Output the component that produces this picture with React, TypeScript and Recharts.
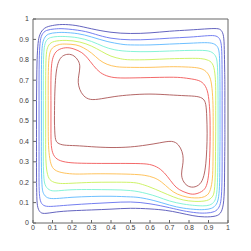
import { LineChart, Line, XAxis, YAxis } from "recharts";

type Pt = [number, number];

const ticks = [0, 0.1, 0.2, 0.3, 0.4, 0.5, 0.6, 0.7, 0.8, 0.9, 1];
const tickLabels = ["0", "0.1", "0.2", "0.3", "0.4", "0.5", "0.6", "0.7", "0.8", "0.9", "1"];

// outermost (dark blue) -> innermost (dark red)
const levelColors = ["#5252b8", "#6470ee", "#5cb8ff", "#78f2d2", "#c8f058", "#ffbc4c", "#f25858", "#ac5656"];

const level1: Pt[] = [
  [0.018, 0.5], [0.018, 0.6], [0.019, 0.7], [0.021, 0.8], [0.026, 0.88], [0.036, 0.925], [0.06, 0.955],
  [0.1, 0.968], [0.15, 0.973], [0.22, 0.968], [0.3, 0.952], [0.4, 0.935], [0.5, 0.929], [0.6, 0.932],
  [0.7, 0.94], [0.8, 0.946], [0.88, 0.951], [0.94, 0.953], [0.965, 0.944], [0.977, 0.915], [0.981, 0.85],
  [0.983, 0.75], [0.984, 0.65], [0.984, 0.5], [0.984, 0.4], [0.983, 0.3], [0.982, 0.2], [0.978, 0.11],
  [0.965, 0.055], [0.935, 0.034], [0.88, 0.03], [0.82, 0.036], [0.75, 0.05], [0.68, 0.062], [0.6, 0.069],
  [0.5, 0.072], [0.4, 0.068], [0.3, 0.064], [0.2, 0.06], [0.12, 0.054], [0.06, 0.047], [0.035, 0.056],
  [0.023, 0.085], [0.019, 0.15], [0.018, 0.25], [0.018, 0.35], [0.018, 0.5],
];

const level2: Pt[] = [
  [0.031, 0.5], [0.031, 0.6], [0.031, 0.7], [0.032, 0.8], [0.036, 0.88], [0.046, 0.922], [0.07, 0.944],
  [0.11, 0.951], [0.16, 0.952], [0.25, 0.942], [0.32, 0.925], [0.4, 0.906], [0.5, 0.898], [0.6, 0.9],
  [0.7, 0.906], [0.8, 0.911], [0.88, 0.917], [0.93, 0.918], [0.955, 0.905], [0.966, 0.87], [0.969, 0.8],
  [0.97, 0.7], [0.97, 0.6], [0.97, 0.5], [0.97, 0.4], [0.97, 0.3], [0.969, 0.2], [0.965, 0.12],
  [0.954, 0.078], [0.93, 0.056], [0.89, 0.049], [0.84, 0.05], [0.77, 0.06], [0.7, 0.075], [0.6, 0.094],
  [0.5, 0.103], [0.4, 0.1], [0.3, 0.095], [0.2, 0.089], [0.12, 0.083], [0.07, 0.082], [0.045, 0.095],
  [0.034, 0.13], [0.031, 0.2], [0.031, 0.3], [0.031, 0.4], [0.031, 0.5],
];

const level3: Pt[] = [
  [0.043, 0.5], [0.043, 0.6], [0.043, 0.7], [0.044, 0.8], [0.048, 0.87], [0.058, 0.905], [0.08, 0.926],
  [0.12, 0.933], [0.16, 0.934], [0.23, 0.928], [0.3, 0.912], [0.38, 0.89], [0.45, 0.877], [0.5, 0.873],
  [0.6, 0.873], [0.7, 0.877], [0.8, 0.881], [0.88, 0.884], [0.925, 0.879], [0.948, 0.86], [0.956, 0.82],
  [0.958, 0.75], [0.959, 0.65], [0.959, 0.5], [0.959, 0.4], [0.958, 0.3], [0.957, 0.2], [0.952, 0.13],
  [0.94, 0.092], [0.915, 0.072], [0.88, 0.066], [0.84, 0.066], [0.77, 0.073], [0.7, 0.088], [0.62, 0.11],
  [0.55, 0.124], [0.5, 0.128], [0.4, 0.131], [0.3, 0.13], [0.2, 0.126], [0.12, 0.12], [0.075, 0.124],
  [0.054, 0.145], [0.046, 0.19], [0.043, 0.3], [0.043, 0.4], [0.043, 0.5],
];

const level4: Pt[] = [
  [0.053, 0.5], [0.053, 0.6], [0.053, 0.7], [0.054, 0.8], [0.058, 0.86], [0.068, 0.893], [0.09, 0.909],
  [0.125, 0.914], [0.165, 0.914], [0.23, 0.908], [0.3, 0.89], [0.36, 0.866], [0.42, 0.849], [0.5, 0.841],
  [0.6, 0.84], [0.7, 0.843], [0.8, 0.846], [0.87, 0.846], [0.91, 0.84], [0.935, 0.82], [0.945, 0.78],
  [0.948, 0.7], [0.949, 0.6], [0.949, 0.5], [0.949, 0.4], [0.948, 0.3], [0.946, 0.2], [0.941, 0.14],
  [0.93, 0.106], [0.905, 0.088], [0.87, 0.084], [0.83, 0.086], [0.77, 0.093], [0.7, 0.108], [0.64, 0.128],
  [0.58, 0.145], [0.5, 0.159], [0.4, 0.163], [0.3, 0.164], [0.2, 0.163], [0.13, 0.158], [0.09, 0.16],
  [0.066, 0.18], [0.056, 0.22], [0.053, 0.3], [0.053, 0.4], [0.053, 0.5],
];

const level5: Pt[] = [
  [0.065, 0.5], [0.065, 0.6], [0.065, 0.7], [0.066, 0.78], [0.07, 0.84], [0.082, 0.873], [0.11, 0.89],
  [0.17, 0.895], [0.24, 0.887], [0.3, 0.867], [0.35, 0.842], [0.4, 0.818], [0.45, 0.805], [0.5, 0.8],
  [0.6, 0.801], [0.7, 0.805], [0.8, 0.807], [0.86, 0.806], [0.9, 0.797], [0.924, 0.772], [0.934, 0.72],
  [0.937, 0.65], [0.937, 0.55], [0.937, 0.45], [0.936, 0.35], [0.935, 0.25], [0.93, 0.16], [0.918, 0.127],
  [0.89, 0.11], [0.83, 0.106], [0.77, 0.113], [0.72, 0.128], [0.66, 0.152], [0.6, 0.176], [0.55, 0.192],
  [0.5, 0.199], [0.4, 0.2], [0.3, 0.199], [0.2, 0.195], [0.14, 0.194], [0.1, 0.203], [0.078, 0.228],
  [0.068, 0.28], [0.065, 0.35], [0.065, 0.42], [0.065, 0.5],
];

const level6: Pt[] = [
  [0.078, 0.5], [0.078, 0.6], [0.078, 0.7], [0.08, 0.78], [0.087, 0.835], [0.105, 0.862], [0.135, 0.875],
  [0.17, 0.877], [0.22, 0.873], [0.26, 0.858], [0.3, 0.833], [0.34, 0.8], [0.38, 0.778], [0.43, 0.766],
  [0.5, 0.763], [0.6, 0.763], [0.7, 0.766], [0.78, 0.765], [0.84, 0.761], [0.88, 0.748], [0.906, 0.716],
  [0.918, 0.66], [0.923, 0.58], [0.924, 0.5], [0.924, 0.4], [0.923, 0.3], [0.92, 0.22], [0.91, 0.165],
  [0.893, 0.137], [0.865, 0.125], [0.83, 0.123], [0.79, 0.127], [0.74, 0.142], [0.7, 0.167], [0.66, 0.2],
  [0.62, 0.222], [0.57, 0.234], [0.5, 0.239], [0.4, 0.241], [0.3, 0.241], [0.22, 0.24], [0.16, 0.245],
  [0.12, 0.256], [0.096, 0.28], [0.084, 0.33], [0.079, 0.4], [0.078, 0.5],
];

const level7: Pt[] = [
  [0.092, 0.5], [0.092, 0.6], [0.092, 0.7], [0.095, 0.77], [0.103, 0.812], [0.125, 0.845], [0.168, 0.859],
  [0.21, 0.853], [0.25, 0.835], [0.28, 0.808], [0.31, 0.772], [0.345, 0.738], [0.39, 0.718], [0.45, 0.711],
  [0.55, 0.712], [0.65, 0.714], [0.74, 0.714], [0.8, 0.708], [0.85, 0.698], [0.88, 0.676], [0.897, 0.635],
  [0.905, 0.57], [0.908, 0.5], [0.908, 0.4], [0.906, 0.32], [0.902, 0.25], [0.893, 0.195], [0.873, 0.16],
  [0.83, 0.142], [0.79, 0.147], [0.75, 0.164], [0.72, 0.19], [0.69, 0.227], [0.655, 0.262], [0.61, 0.284],
  [0.55, 0.291], [0.45, 0.292], [0.35, 0.292], [0.25, 0.293], [0.18, 0.297], [0.132, 0.309], [0.105, 0.335],
  [0.094, 0.38], [0.092, 0.44], [0.092, 0.5],
];

const level8: Pt[] = [
  [0.11, 0.5], [0.111, 0.6], [0.114, 0.68], [0.12, 0.745], [0.132, 0.792], [0.152, 0.818], [0.18, 0.827],
  [0.21, 0.819], [0.232, 0.795], [0.24, 0.765], [0.235, 0.725], [0.232, 0.69], [0.24, 0.655], [0.26, 0.624],
  [0.295, 0.606], [0.35, 0.609], [0.42, 0.62], [0.5, 0.628], [0.6, 0.632], [0.7, 0.628], [0.78, 0.624],
  [0.84, 0.62], [0.872, 0.608], [0.886, 0.58], [0.891, 0.52], [0.893, 0.44], [0.891, 0.36], [0.886, 0.29],
  [0.876, 0.232], [0.856, 0.192], [0.822, 0.176], [0.79, 0.184], [0.77, 0.207], [0.762, 0.24], [0.767, 0.28],
  [0.77, 0.315], [0.764, 0.35], [0.745, 0.383], [0.71, 0.4], [0.65, 0.393], [0.58, 0.382], [0.5, 0.373],
  [0.4, 0.37], [0.3, 0.374], [0.22, 0.379], [0.16, 0.382], [0.128, 0.392], [0.114, 0.42], [0.11, 0.5],
];

const levels = [level1, level2, level3, level4, level5, level6, level7, level8];

const axisColor = "#666666";
const tickFont = { fontSize: 7, fill: "#404040", fontFamily: "Liberation Sans, Arial, sans-serif" };
const fmt = (v: number) => tickLabels[ticks.indexOf(v)] ?? String(v);

export default function App() {
  return (
    <LineChart width={240} height={240} margin={{ top: 10, right: 19, bottom: 0, left: 0 }}>
      <XAxis
        xAxisId="b"
        type="number"
        dataKey="x"
        domain={[0, 1]}
        ticks={ticks}
        interval={0}
        tickFormatter={fmt}
        height={25}
        tickSize={-3}
        tickMargin={5}
        stroke={axisColor}
        tick={tickFont}
      />
      <XAxis
        xAxisId="t"
        orientation="top"
        type="number"
        dataKey="x"
        domain={[0, 1]}
        ticks={ticks}
        interval={0}
        tickFormatter={() => ""}
        height={1}
        tickSize={-3}
        stroke={axisColor}
      />
      <YAxis
        yAxisId="l"
        type="number"
        dataKey="y"
        domain={[0, 1]}
        ticks={ticks}
        interval={0}
        tickFormatter={fmt}
        width={25}
        tickSize={-3}
        tickMargin={7}
        stroke={axisColor}
        tick={tickFont}
      />
      <YAxis
        yAxisId="r"
        orientation="right"
        type="number"
        dataKey="y"
        domain={[0, 1]}
        ticks={ticks}
        interval={0}
        tickFormatter={() => ""}
        width={1}
        tickSize={-3}
        stroke={axisColor}
      />
      {levels.map((pts, i) => (
        <Line
          key={i}
          xAxisId="b"
          yAxisId="l"
          data={pts.map(([x, y]) => ({ x, y }))}
          dataKey="y"
          type="natural"
          stroke={levelColors[i]}
          strokeWidth={0.9}
          dot={false}
          activeDot={false}
          isAnimationActive={false}
        />
      ))}
    </LineChart>
  );
}
